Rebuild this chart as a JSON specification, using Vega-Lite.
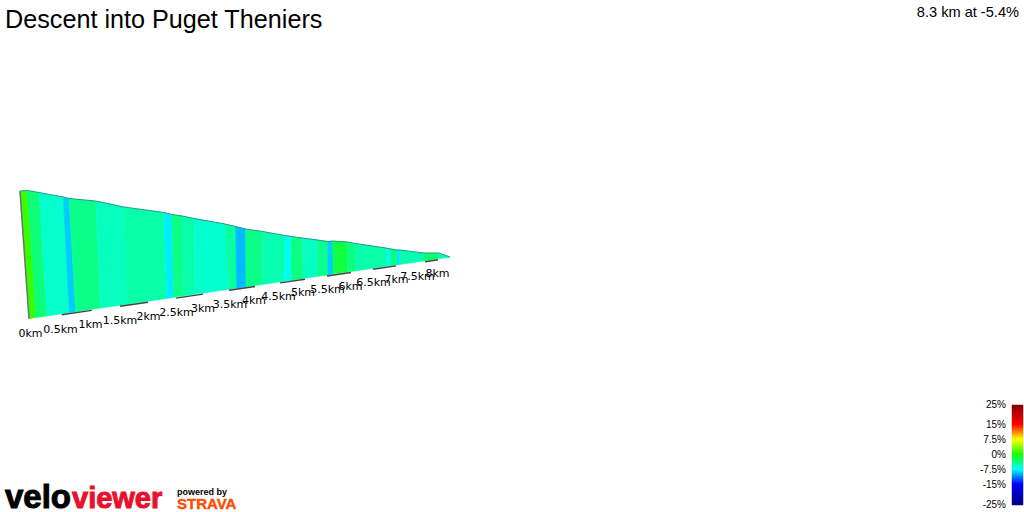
{"$schema":"https://vega.github.io/schema/vega-lite/v6.json","width":1024,"height":512,"padding":0,"autosize":{"type":"none"},"background":"white","view":{"stroke":null},
"title":{"text":"Descent into Puget Theniers","anchor":"start","frame":"group","orient":"top","offset":-28,"dy":5,"dx":5,"font":"Liberation Sans","fontSize":25.2,"fontWeight":"normal","color":"#000000"},
"datasets":{
"bands":[
{"b":0,"i":0,"x":20,"y":191.3,"g":1},{"b":0,"i":1,"x":27.3,"y":190.7,"g":1},{"b":0,"i":2,"x":36,"y":317.5,"g":1},{"b":0,"i":3,"x":29.3,"y":318.5,"g":1},
{"b":1,"i":0,"x":27.3,"y":190.7,"g":-3.5},{"b":1,"i":1,"x":39,"y":192.7,"g":-3.5},{"b":1,"i":2,"x":46.7,"y":316,"g":-3.5},{"b":1,"i":3,"x":36,"y":317.5,"g":-3.5},
{"b":2,"i":0,"x":39,"y":192.7,"g":-6},{"b":2,"i":1,"x":63.3,"y":197.3,"g":-6},{"b":2,"i":2,"x":69.3,"y":312.7,"g":-6},{"b":2,"i":3,"x":46.7,"y":316,"g":-6},
{"b":3,"i":0,"x":63.3,"y":197.3,"g":-9},{"b":3,"i":1,"x":69,"y":198.7,"g":-9},{"b":3,"i":2,"x":75.7,"y":311.7,"g":-9},{"b":3,"i":3,"x":69.3,"y":312.7,"g":-9},
{"b":4,"i":0,"x":69,"y":198.7,"g":-4},{"b":4,"i":1,"x":95.7,"y":201.3,"g":-4},{"b":4,"i":2,"x":100.7,"y":308,"g":-4},{"b":4,"i":3,"x":75.7,"y":311.7,"g":-4},
{"b":5,"i":0,"x":95.7,"y":201.3,"g":-5.6},{"b":5,"i":1,"x":124,"y":207.3,"g":-5.6},{"b":5,"i":2,"x":127.7,"y":304.2,"g":-5.6},{"b":5,"i":3,"x":100.7,"y":308,"g":-5.6},
{"b":6,"i":0,"x":124,"y":207.3,"g":-5},{"b":6,"i":1,"x":164,"y":212.7,"g":-5},{"b":6,"i":2,"x":166.7,"y":298.4,"g":-5},{"b":6,"i":3,"x":127.7,"y":304.2,"g":-5},
{"b":7,"i":0,"x":164,"y":212.7,"g":-8},{"b":7,"i":1,"x":171.7,"y":214.7,"g":-8},{"b":7,"i":2,"x":174,"y":297.3,"g":-8},{"b":7,"i":3,"x":166.7,"y":298.4,"g":-8},
{"b":8,"i":0,"x":171.7,"y":214.7,"g":-3.8},{"b":8,"i":1,"x":182,"y":216,"g":-3.8},{"b":8,"i":2,"x":182.3,"y":296.1,"g":-3.8},{"b":8,"i":3,"x":174,"y":297.3,"g":-3.8},
{"b":9,"i":0,"x":182,"y":216,"g":-5},{"b":9,"i":1,"x":194,"y":218.7,"g":-5},{"b":9,"i":2,"x":195,"y":294.3,"g":-5},{"b":9,"i":3,"x":182.3,"y":296.1,"g":-5},
{"b":10,"i":0,"x":194,"y":218.7,"g":-6.1},{"b":10,"i":1,"x":225,"y":224.3,"g":-6.1},{"b":10,"i":2,"x":229,"y":289.3,"g":-6.1},{"b":10,"i":3,"x":195,"y":294.3,"g":-6.1},
{"b":11,"i":0,"x":225,"y":224.3,"g":-4.7},{"b":11,"i":1,"x":235.7,"y":226.7,"g":-4.7},{"b":11,"i":2,"x":236.7,"y":288.2,"g":-4.7},{"b":11,"i":3,"x":229,"y":289.3,"g":-4.7},
{"b":12,"i":0,"x":235.7,"y":226.7,"g":-9.5},{"b":12,"i":1,"x":245.7,"y":229.3,"g":-9.5},{"b":12,"i":2,"x":246,"y":286.9,"g":-9.5},{"b":12,"i":3,"x":236.7,"y":288.2,"g":-9.5},
{"b":13,"i":0,"x":245.7,"y":229.3,"g":-4},{"b":13,"i":1,"x":262.7,"y":231.7,"g":-4},{"b":13,"i":2,"x":262.7,"y":284.4,"g":-4},{"b":13,"i":3,"x":246,"y":286.9,"g":-4},
{"b":14,"i":0,"x":262.7,"y":231.7,"g":-5.2},{"b":14,"i":1,"x":284.7,"y":235.7,"g":-5.2},{"b":14,"i":2,"x":284.3,"y":281.3,"g":-5.2},{"b":14,"i":3,"x":262.7,"y":284.4,"g":-5.2},
{"b":15,"i":0,"x":284.7,"y":235.7,"g":-7},{"b":15,"i":1,"x":291.7,"y":236.7,"g":-7},{"b":15,"i":2,"x":291.7,"y":280.2,"g":-7},{"b":15,"i":3,"x":284.3,"y":281.3,"g":-7},
{"b":16,"i":0,"x":291.7,"y":236.7,"g":-3.8},{"b":16,"i":1,"x":302,"y":238.3,"g":-3.8},{"b":16,"i":2,"x":303.3,"y":278.5,"g":-3.8},{"b":16,"i":3,"x":291.7,"y":280.2,"g":-3.8},
{"b":17,"i":0,"x":302,"y":238.3,"g":-5.6},{"b":17,"i":1,"x":317.3,"y":240,"g":-5.6},{"b":17,"i":2,"x":318.3,"y":276.3,"g":-5.6},{"b":17,"i":3,"x":303.3,"y":278.5,"g":-5.6},
{"b":18,"i":0,"x":317.3,"y":240,"g":-4.2},{"b":18,"i":1,"x":328,"y":241.7,"g":-4.2},{"b":18,"i":2,"x":328,"y":274.9,"g":-4.2},{"b":18,"i":3,"x":318.3,"y":276.3,"g":-4.2},
{"b":19,"i":0,"x":328,"y":241.7,"g":-9},{"b":19,"i":1,"x":332.7,"y":241.3,"g":-9},{"b":19,"i":2,"x":333.3,"y":274.1,"g":-9},{"b":19,"i":3,"x":328,"y":274.9,"g":-9},
{"b":20,"i":0,"x":332.7,"y":241.3,"g":-1.9},{"b":20,"i":1,"x":347.3,"y":242,"g":-1.9},{"b":20,"i":2,"x":347.7,"y":272,"g":-1.9},{"b":20,"i":3,"x":333.3,"y":274.1,"g":-1.9},
{"b":21,"i":0,"x":347.3,"y":242,"g":-3.8},{"b":21,"i":1,"x":355.3,"y":243.7,"g":-3.8},{"b":21,"i":2,"x":356,"y":270.8,"g":-3.8},{"b":21,"i":3,"x":347.7,"y":272,"g":-3.8},
{"b":22,"i":0,"x":355.3,"y":243.7,"g":-5},{"b":22,"i":1,"x":386,"y":248.3,"g":-5},{"b":22,"i":2,"x":386,"y":266.4,"g":-5},{"b":22,"i":3,"x":356,"y":270.8,"g":-5},
{"b":23,"i":0,"x":386,"y":248.3,"g":-6.6},{"b":23,"i":1,"x":391,"y":249,"g":-6.6},{"b":23,"i":2,"x":391,"y":265.7,"g":-6.6},{"b":23,"i":3,"x":386,"y":266.4,"g":-6.6},
{"b":24,"i":0,"x":391,"y":249,"g":-3.8},{"b":24,"i":1,"x":396.7,"y":250,"g":-3.8},{"b":24,"i":2,"x":397,"y":264.8,"g":-3.8},{"b":24,"i":3,"x":391,"y":265.7,"g":-3.8},
{"b":25,"i":0,"x":396.7,"y":250,"g":-8.3},{"b":25,"i":1,"x":400,"y":250.3,"g":-8.3},{"b":25,"i":2,"x":399.7,"y":264.4,"g":-8.3},{"b":25,"i":3,"x":397,"y":264.8,"g":-8.3},
{"b":26,"i":0,"x":400,"y":250.3,"g":-5.2},{"b":26,"i":1,"x":424,"y":253.3,"g":-5.2},{"b":26,"i":2,"x":424,"y":260.9,"g":-5.2},{"b":26,"i":3,"x":399.7,"y":264.4,"g":-5.2},
{"b":27,"i":0,"x":424,"y":253.3,"g":-3.1},{"b":27,"i":1,"x":438.7,"y":253.3,"g":-3.1},{"b":27,"i":2,"x":438.7,"y":258.7,"g":-3.1},{"b":27,"i":3,"x":424,"y":260.9,"g":-3.1},
{"b":28,"i":0,"x":438.7,"y":253.3,"g":-5.2},{"b":28,"i":1,"x":450,"y":257,"g":-5.2},{"b":28,"i":2,"x":450,"y":257.2,"g":-5.2},{"b":28,"i":3,"x":438.7,"y":258.7,"g":-5.2}
],
"top":[{"x":20,"y":191},{"x":27.3,"y":190.5},{"x":39,"y":192.5},{"x":63.3,"y":197},{"x":69,"y":198.5},{"x":95.7,"y":201},{"x":124,"y":207},{"x":164,"y":212.5},{"x":171.7,"y":214.5},{"x":182,"y":216},{"x":194,"y":218.5},{"x":225,"y":224},{"x":235.7,"y":226.5},{"x":245.7,"y":229},{"x":262.7,"y":231.5},{"x":284.7,"y":235.5},{"x":291.7,"y":236.5},{"x":302,"y":238},{"x":317.3,"y":240},{"x":328,"y":241.5},{"x":332.7,"y":241},{"x":347.3,"y":242},{"x":355.3,"y":243.5},{"x":386,"y":248},{"x":391,"y":249},{"x":396.7,"y":250},{"x":400,"y":250},{"x":424,"y":253},{"x":438.7,"y":253},{"x":450,"y":257}],
"side":[{"x":20,"y":191},{"x":29,"y":319}],
"dash":[{"s":1,"x":61.7,"y":314.8},{"s":1,"x":91.7,"y":310.4},{"s":2,"x":120,"y":306.3},{"s":2,"x":148,"y":302.2},{"s":3,"x":176,"y":298.1},{"s":3,"x":203,"y":294.1},{"s":4,"x":229,"y":290.3},{"s":4,"x":255,"y":286.5},{"s":5,"x":280,"y":282.9},{"s":5,"x":305,"y":279.2},{"s":6,"x":327,"y":276},{"s":6,"x":351,"y":272.5},{"s":7,"x":373,"y":269.3},{"s":7,"x":396,"y":265.9},{"s":8,"x":425,"y":261.7},{"s":8,"x":438,"y":259.8}],
"km":[{"t":"0km","x":30.5,"y":334},{"t":"0.5km","x":60.5,"y":330},{"t":"1km","x":90.5,"y":325},{"t":"1.5km","x":120,"y":321},{"t":"2km","x":148.5,"y":317},{"t":"2.5km","x":176.5,"y":313},{"t":"3km","x":203,"y":309},{"t":"3.5km","x":230,"y":305},{"t":"4km","x":254,"y":301},{"t":"4.5km","x":278.5,"y":297},{"t":"5km","x":303,"y":293},{"t":"5.5km","x":327.5,"y":290},{"t":"6km","x":350.5,"y":287},{"t":"6.5km","x":373.5,"y":283},{"t":"7km","x":396.5,"y":280},{"t":"7.5km","x":417.5,"y":277},{"t":"8km","x":437.5,"y":274}],
"scale":[{"g":-25,"h":-24},{"g":-24,"h":-23},{"g":-23,"h":-22},{"g":-22,"h":-21},{"g":-21,"h":-20},{"g":-20,"h":-19},{"g":-19,"h":-18},{"g":-18,"h":-17},{"g":-17,"h":-16},{"g":-16,"h":-15},{"g":-15,"h":-14},{"g":-14,"h":-13},{"g":-13,"h":-12},{"g":-12,"h":-11},{"g":-11,"h":-10},{"g":-10,"h":-9},{"g":-9,"h":-8},{"g":-8,"h":-7},{"g":-7,"h":-6},{"g":-6,"h":-5},{"g":-5,"h":-4},{"g":-4,"h":-3},{"g":-3,"h":-2},{"g":-2,"h":-1},{"g":-1,"h":0},{"g":0,"h":1},{"g":1,"h":2},{"g":2,"h":3},{"g":3,"h":4},{"g":4,"h":5},{"g":5,"h":6},{"g":6,"h":7},{"g":7,"h":8},{"g":8,"h":9},{"g":9,"h":10},{"g":10,"h":11},{"g":11,"h":12},{"g":12,"h":13},{"g":13,"h":14},{"g":14,"h":15},{"g":15,"h":16},{"g":16,"h":17},{"g":17,"h":18},{"g":18,"h":19},{"g":19,"h":20},{"g":20,"h":21},{"g":21,"h":22},{"g":22,"h":23},{"g":23,"h":24},{"g":24,"h":25}],
"ticks":[{"g":25,"t":"25%"},{"g":15,"t":"15%"},{"g":7.5,"t":"7.5%"},{"g":0,"t":"0%"},{"g":-7.5,"t":"-7.5%"},{"g":-15,"t":"-15%"},{"g":-25,"t":"-25%"}]
},
"layer":[
{"data":{"name":"bands"},"mark":{"type":"line","interpolate":"linear-closed","strokeWidth":0.6},"encoding":{"x":{"field":"x","type":"quantitative","scale":{"domain":[0,1024],"range":[0,1024]},"axis":null},"y":{"field":"y","type":"quantitative","scale":{"domain":[0,512],"range":[0,512]},"axis":null},"detail":{"field":"b"},"order":{"field":"i"},"fill":{"field":"g","type":"quantitative","scale":{"interpolate":"rgb","domain":[-25,-15,-7.5,0,7.5,15,25],"range":["#000080","#0000ff","#00ffff","#18ff00","#ffff00","#ff0000","#800000"]},"legend":null},"stroke":{"field":"g","type":"quantitative","scale":{"interpolate":"rgb","domain":[-25,-15,-7.5,0,7.5,15,25],"range":["#000080","#0000ff","#00ffff","#18ff00","#ffff00","#ff0000","#800000"]},"legend":null}}},
{"data":{"name":"top"},"mark":{"type":"line","color":"#1c9c90","strokeWidth":1},"encoding":{"x":{"field":"x","type":"quantitative","scale":{"domain":[0,1024],"range":[0,1024]},"axis":null},"y":{"field":"y","type":"quantitative","scale":{"domain":[0,512],"range":[0,512]},"axis":null}}},
{"data":{"name":"side"},"mark":{"type":"line","color":"#707070","strokeWidth":1.5},"encoding":{"x":{"field":"x","type":"quantitative","scale":{"domain":[0,1024],"range":[0,1024]},"axis":null},"y":{"field":"y","type":"quantitative","scale":{"domain":[0,512],"range":[0,512]},"axis":null}}},
{"data":{"name":"dash"},"mark":{"type":"line","color":"#444444","strokeWidth":1.4},"encoding":{"x":{"field":"x","type":"quantitative","scale":{"domain":[0,1024],"range":[0,1024]},"axis":null},"y":{"field":"y","type":"quantitative","scale":{"domain":[0,512],"range":[0,512]},"axis":null},"detail":{"field":"s"}}},
{"data":{"name":"km"},"mark":{"type":"text","font":"DejaVu Sans","fontSize":11,"color":"#000000","align":"center","baseline":"middle"},"encoding":{"x":{"field":"x","type":"quantitative","scale":{"domain":[0,1024],"range":[0,1024]},"axis":null},"y":{"field":"y","type":"quantitative","scale":{"domain":[0,512],"range":[0,512]},"axis":null},"text":{"field":"t"}}},
{"data":{"values":[{"t":"8.3 km at -5.4%","x":1019,"y":13}]},"mark":{"type":"text","font":"Liberation Sans","fontSize":14.6,"color":"#000000","align":"right","baseline":"middle"},"encoding":{"x":{"field":"x","type":"quantitative","scale":{"domain":[0,1024],"range":[0,1024]},"axis":null},"y":{"field":"y","type":"quantitative","scale":{"domain":[0,512],"range":[0,512]},"axis":null},"text":{"field":"t"}}},
{"data":{"name":"scale"},"mark":{"type":"rect","strokeWidth":0.5},"encoding":{"x":{"datum":1012,"type":"quantitative","scale":{"domain":[0,1024],"range":[0,1024]},"axis":null},"x2":{"datum":1023},"y":{"field":"g","type":"quantitative","scale":{"domain":[-25,25],"range":[505,405]},"axis":null},"y2":{"field":"h"},"fill":{"field":"g","type":"quantitative","scale":{"interpolate":"rgb","domain":[-25,-15,-7.5,0,7.5,15,25],"range":["#000080","#0000ff","#00ffff","#18ff00","#ffff00","#ff0000","#800000"]},"legend":null},"stroke":{"field":"g","type":"quantitative","scale":{"interpolate":"rgb","domain":[-25,-15,-7.5,0,7.5,15,25],"range":["#000080","#0000ff","#00ffff","#18ff00","#ffff00","#ff0000","#800000"]},"legend":null}}},
{"data":{"name":"ticks"},"mark":{"type":"text","font":"Liberation Sans","fontSize":10,"color":"#000000","align":"right","baseline":"middle"},"encoding":{"x":{"datum":1006,"type":"quantitative","scale":{"domain":[0,1024],"range":[0,1024]},"axis":null},"y":{"field":"g","type":"quantitative","scale":{"domain":[-25,25],"range":[505,405]},"axis":null},"text":{"field":"t"}}},
{"data":{"values":[{"t":"velo","x":5,"y":508}]},"mark":{"type":"text","font":"Liberation Sans","fontWeight":"bold","fontSize":33,"color":"#000000","stroke":"#000000","strokeWidth":1,"align":"left","baseline":"alphabetic"},"encoding":{"x":{"field":"x","type":"quantitative","scale":{"domain":[0,1024],"range":[0,1024]},"axis":null},"y":{"field":"y","type":"quantitative","scale":{"domain":[0,512],"range":[0,512]},"axis":null},"text":{"field":"t"}}},
{"data":{"values":[{"t":"viewer","x":72,"y":508}]},"mark":{"type":"text","font":"Liberation Sans","fontWeight":"bold","fontSize":29,"color":"#e8112d","stroke":"#e8112d","strokeWidth":1,"align":"left","baseline":"alphabetic"},"encoding":{"x":{"field":"x","type":"quantitative","scale":{"domain":[0,1024],"range":[0,1024]},"axis":null},"y":{"field":"y","type":"quantitative","scale":{"domain":[0,512],"range":[0,512]},"axis":null},"text":{"field":"t"}}},
{"data":{"values":[{"t":"powered by","x":177,"y":495}]},"mark":{"type":"text","font":"Liberation Sans","fontWeight":"bold","fontSize":9,"color":"#000000","align":"left","baseline":"alphabetic"},"encoding":{"x":{"field":"x","type":"quantitative","scale":{"domain":[0,1024],"range":[0,1024]},"axis":null},"y":{"field":"y","type":"quantitative","scale":{"domain":[0,512],"range":[0,512]},"axis":null},"text":{"field":"t"}}},
{"data":{"values":[{"t":"STRAVA","x":177,"y":509}]},"mark":{"type":"text","font":"Liberation Sans","fontWeight":"bold","fontSize":15,"color":"#fc4c02","stroke":"#fc4c02","strokeWidth":0.4,"align":"left","baseline":"alphabetic"},"encoding":{"x":{"field":"x","type":"quantitative","scale":{"domain":[0,1024],"range":[0,1024]},"axis":null},"y":{"field":"y","type":"quantitative","scale":{"domain":[0,512],"range":[0,512]},"axis":null},"text":{"field":"t"}}}
],
"resolve":{"scale":{"y":"independent"}}}
